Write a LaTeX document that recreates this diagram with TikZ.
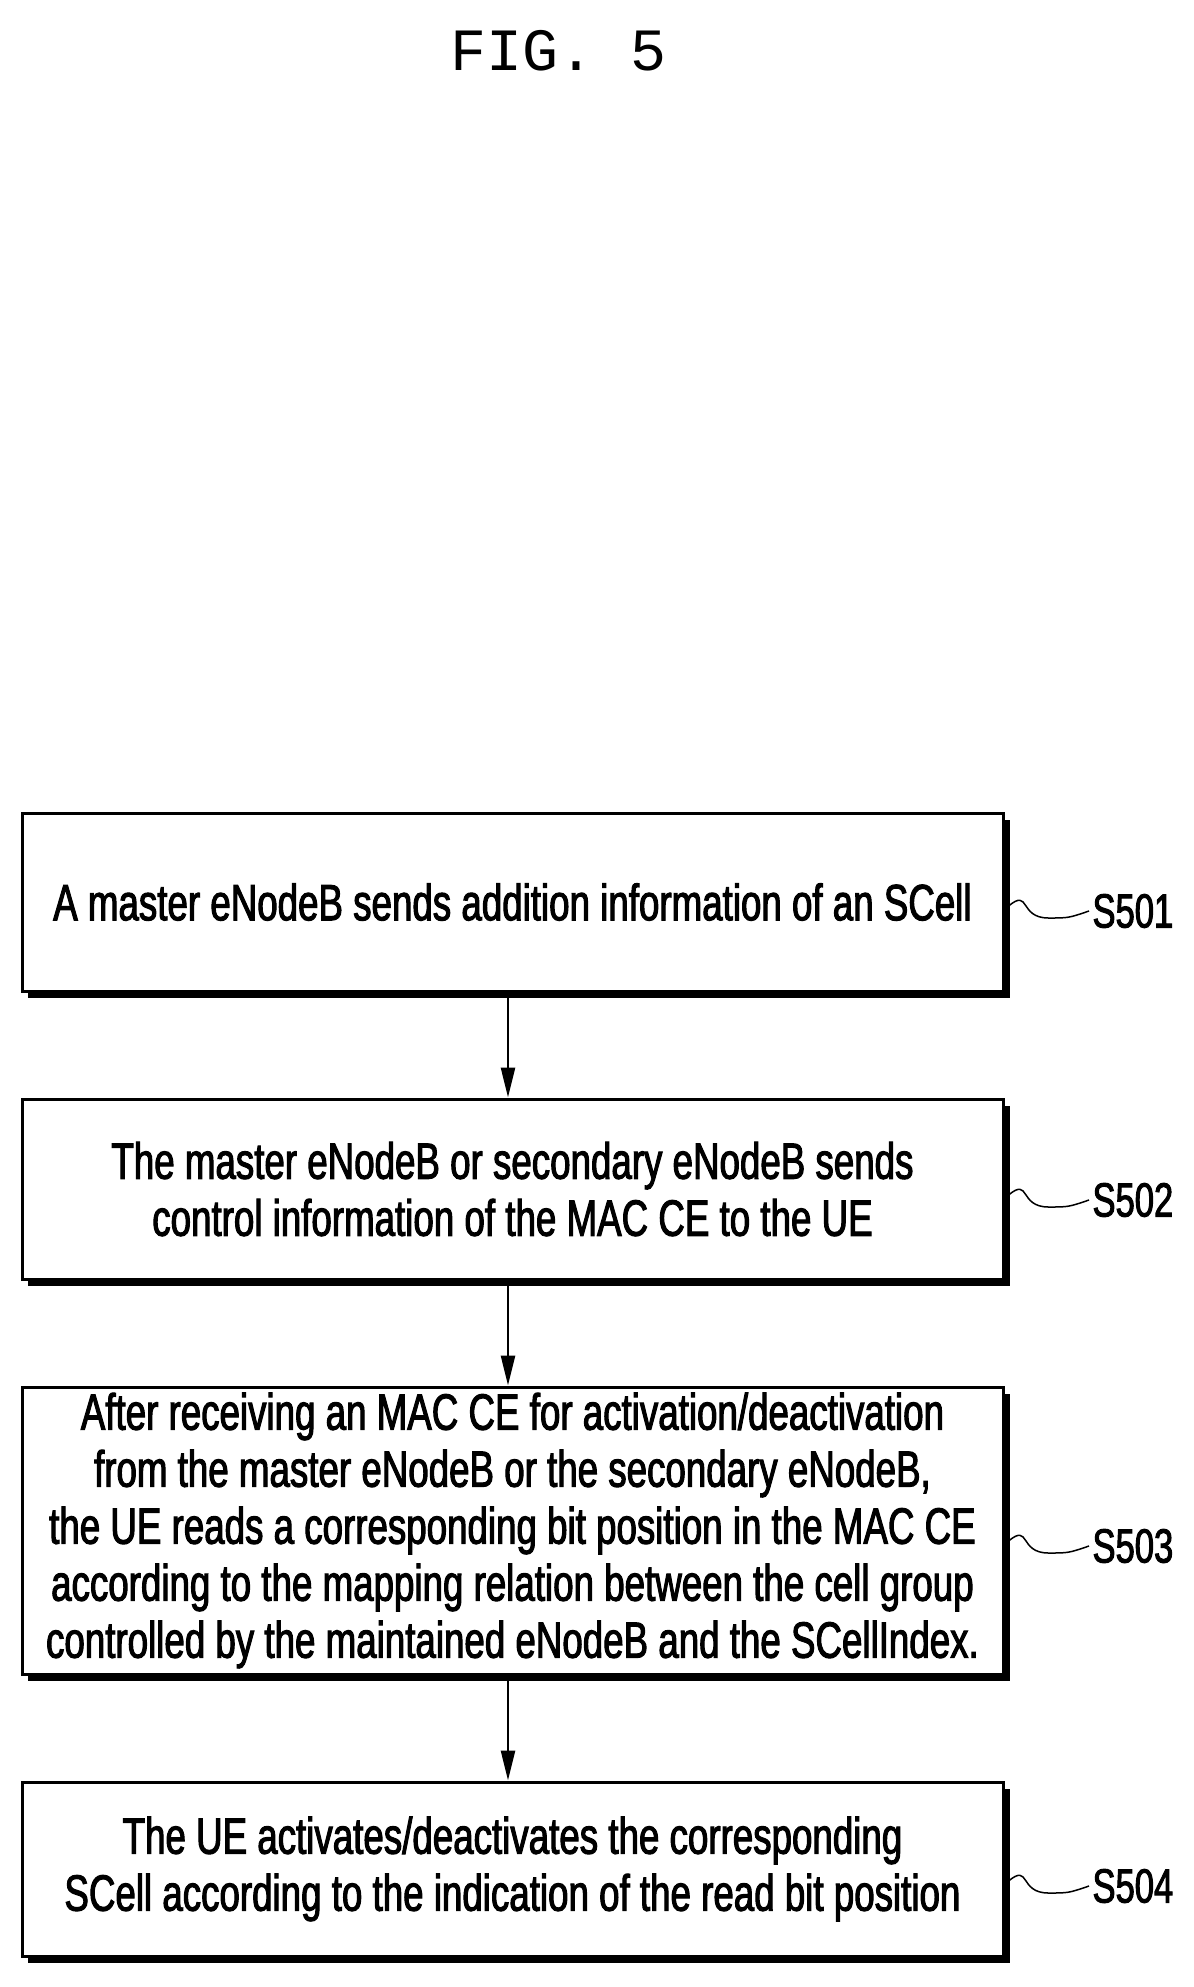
\documentclass[tikz,border=0pt]{standalone}
\usepackage{fontspec}
\setmainfont{Liberation Sans}[FakeStretch=0.72,FakeBold=2]
\newfontfamily\titlefont{Liberation Mono}
\usetikzlibrary{arrows.meta,positioning}
\begin{document}
\begin{tikzpicture}[x=1pt,y=-1pt,
  box/.style={draw,line width=3pt,fill=white,inner sep=0pt,align=center,
    font=\fontsize{51}{57}\selectfont},
  arr/.style={line width=2.5pt,-{Triangle[length=30pt,width=14pt]}},
  lab/.style={font=\fontsize{48}{52}\selectfont,anchor=west},
  sq/.style={line width=1.5pt}]
\useasboundingbox (0,0) rectangle (1194,1987);
\node[font=\titlefont\fontsize{60}{60}\selectfont] (title) at (559,51) {FIG. 5};
% shadows
\foreach \t/\b in {813/991,1099/1279,1387/1674,1782/1956}
  \fill (28,\t+7) rectangle (1010,\b+7);
\node[box,minimum width=981pt,minimum height=178pt] (b1) at (512.5,902) {A master eNodeB sends addition information of an SCell};
\node[box,minimum width=981pt,minimum height=180pt] (b2) at (512.5,1189) {The master eNodeB or secondary eNodeB sends\\control information of the MAC CE to the UE};
\node[box,minimum width=981pt,minimum height=287pt] (b3) at (512.5,1530.5) {After receiving an MAC CE for activation/deactivation\\from the master eNodeB or the secondary eNodeB,\\the UE reads a corresponding bit position in the MAC CE\\according to the mapping relation between the cell group\\controlled by the maintained eNodeB and the SCellIndex.};
\node[box,minimum width=981pt,minimum height=174pt] (b4) at (512.5,1869) {The UE activates/deactivates the corresponding\\SCell according to the indication of the read bit position};
\draw[arr] (b1.south -| 508,0) -- (b2.north -| 508,0);
\draw[arr] (b2.south -| 508,0) -- (b3.north -| 508,0);
\draw[arr] (b3.south -| 508,0) -- (b4.north -| 508,0);
\foreach \n/\y/\s in {b1/911/S501,b2/1200/S502,b3/1546/S503,b4/1886/S504}{
  \node[lab] (l\n) at (1089,\y) {\s};
  \coordinate (c\n) at (\n.east |- 0,\y-5);
  \draw[sq] ([xshift=4pt]c\n) .. controls ++(22,-18) and ++(-30,0) .. ++(40,12) .. controls ++(20,0) .. (l\n.west);
}
\end{tikzpicture}
\end{document}
